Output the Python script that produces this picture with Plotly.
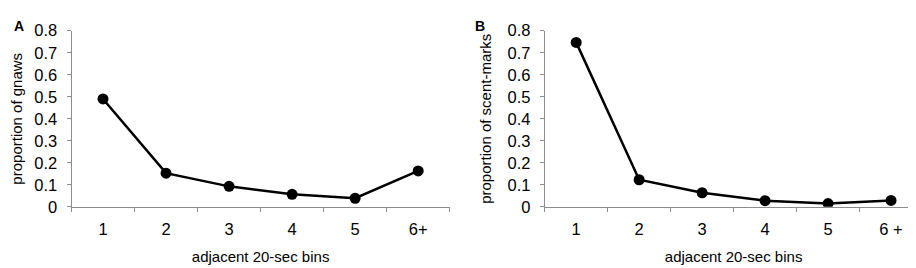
import plotly.graph_objects as go

bins = ["1", "2", "3", "4", "5", "6+"]
bins_b = ["1", "2", "3", "4", "5", "6 +"]
gnaws = [0.49, 0.153, 0.093, 0.057, 0.039, 0.163]
scent_marks = [0.747, 0.123, 0.064, 0.028, 0.015, 0.029]
y_ticks = [0, 0.1, 0.2, 0.3, 0.4, 0.5, 0.6, 0.7, 0.8]
y_ticklabels = ["0", "0.1", "0.2", "0.3", "0.4", "0.5", "0.6", "0.7", "0.8"]

W, H = 916, 268
fam = "Liberation Sans, Arial, sans-serif"
tick_font = dict(family=fam, size=16.5, color="#000")
title_font = dict(family=fam, size=15, color="#000")

fig = go.Figure()
line = dict(color="black", width=2.5)
marker = dict(color="black", size=11)
fig.add_trace(go.Scatter(x=bins, y=gnaws, mode="lines+markers", line=line, marker=marker,
                         xaxis="x", yaxis="y", showlegend=False))
fig.add_trace(go.Scatter(x=bins_b, y=scent_marks, mode="lines+markers", line=line, marker=marker,
                         xaxis="x2", yaxis="y2", showlegend=False))

y_bot = (H - 203.5) / H
y_top = (H - 14.7) / H

def xax(domain, anchor):
    return dict(domain=domain, anchor=anchor, type="category", range=[-0.5, 5.5],
                showline=True, linecolor="#8c8c8c", linewidth=1, ticks="outside",
                tickson="boundaries", ticklen=4, tickcolor="#8c8c8c",
                showgrid=False, zeroline=False, tickfont=tick_font,
                ticklabelstandoff=7,
                title=dict(text="adjacent 20-sec bins", font=title_font, standoff=14))

def yax(anchor, title):
    return dict(domain=[y_bot, y_top], anchor=anchor, range=[0, 0.8],
                tickvals=y_ticks, ticktext=y_ticklabels,
                showline=True, linecolor="#8c8c8c", linewidth=1, ticks="outside",
                ticklen=4, tickcolor="#8c8c8c", showgrid=False, zeroline=False,
                tickfont=tick_font, ticklabelstandoff=6,
                title=dict(text=title, font=title_font, standoff=12))

fig.update_layout(
    width=W, height=H, margin=dict(l=0, r=0, t=0, b=0),
    paper_bgcolor="white", plot_bgcolor="white", font=title_font,
    xaxis=xax([63.5 / W, 441.7 / W], "y"),
    yaxis=yax("x", "proportion of gnaws"),
    xaxis2=xax([536.7 / W, 914.5 / W], "y2"),
    yaxis2=yax("x2", "proportion of scent-marks"),
    annotations=[
        dict(text="<b>A</b>", x=4 / W, y=(H - 10) / H, xref="paper", yref="paper",
             xanchor="left", yanchor="middle", showarrow=False,
             font=dict(family=fam, size=14, color="black")),
        dict(text="<b>B</b>", x=465 / W, y=(H - 10) / H, xref="paper", yref="paper",
             xanchor="left", yanchor="middle", showarrow=False,
             font=dict(family=fam, size=14, color="black")),
    ],
)

fig.write_html("out.html")
